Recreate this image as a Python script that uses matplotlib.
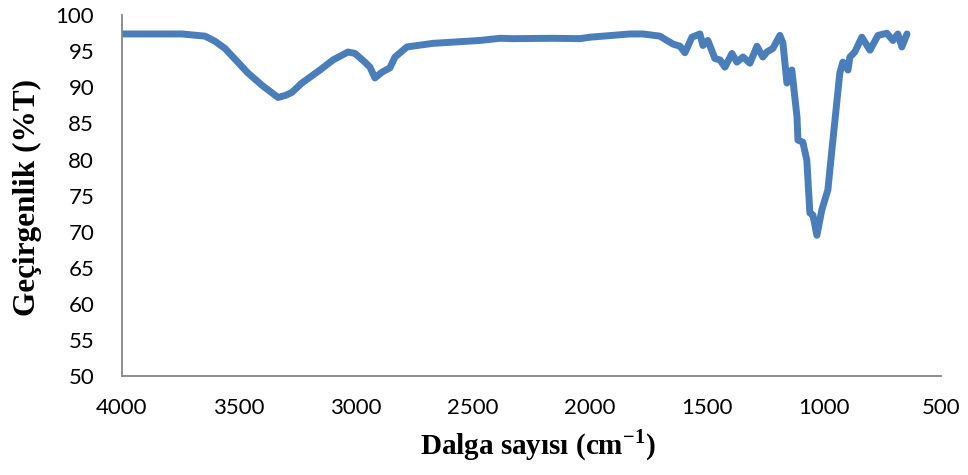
import matplotlib
matplotlib.use("Agg")
import matplotlib.pyplot as plt

plt.rcParams["mathtext.fontset"] = "custom"
plt.rcParams["mathtext.rm"] = "Liberation Serif"
plt.rcParams["mathtext.bf"] = "Liberation Serif:bold"

# FTIR spectrum: wavenumber (cm-1) and transmittance (%T)
wavenumber = [4000, 3744, 3645, 3603, 3560, 3462, 3402, 3333, 3300, 3274, 3231,
              3154, 3098, 3034, 3004, 2962, 2940, 2919, 2889, 2855, 2833, 2782,
              2671, 2470, 2385, 2329, 2158, 2043, 2000, 1829, 1774, 1701, 1671,
              1645, 1615, 1594, 1564, 1530, 1517, 1496, 1466, 1444, 1423, 1393,
              1372, 1346, 1316, 1286, 1261, 1244, 1218, 1188, 1175, 1158, 1137,
              1115, 1111, 1090, 1073, 1060, 1047, 1030, 1009, 983, 966, 944,
              932, 919, 897, 889, 868, 838, 803, 769, 731, 705, 684, 667, 645]
transmittance = [97.4, 97.4, 97.1, 96.4, 95.4, 92.0, 90.3, 88.6, 88.9, 89.3, 90.6,
                 92.4, 93.8, 94.9, 94.7, 93.5, 92.8, 91.3, 92.1, 92.7, 94.2, 95.6,
                 96.1, 96.5, 96.8, 96.75, 96.8, 96.75, 96.95, 97.4, 97.4, 97.1, 96.5,
                 96.0, 95.7, 94.8, 96.95, 97.4, 95.8, 96.5, 94.0, 93.8, 92.8, 94.7,
                 93.5, 94.2, 93.35, 95.7, 94.2, 94.9, 95.4, 97.2, 96.1, 90.6, 92.4,
                 85.9, 82.7, 82.4, 79.9, 72.6, 72.3, 69.5, 73.0, 75.8, 81.3, 88.2,
                 92.0, 93.5, 92.4, 94.2, 94.9, 96.95, 95.15, 97.2, 97.5, 96.5, 97.4, 95.6, 97.4]

x_ticks = [4000, 3500, 3000, 2500, 2000, 1500, 1000, 500]
y_ticks = [50, 55, 60, 65, 70, 75, 80, 85, 90, 95, 100]

x_label = r"Dalga sayısı (cm$^{\mathbf{-1}}$)"
y_label = "Geçirgenlik (%T)"

fig = plt.figure(figsize=(9.68, 4.75), dpi=100)
ax = fig.add_axes([0.126, 0.2084, 0.846, 0.7596])

ax.plot(wavenumber, transmittance, color="#4a7ebb", linewidth=5,
        solid_joinstyle="round", solid_capstyle="round")

ax.set_xlim(4000, 500)
ax.set_ylim(50, 100)
ax.set_xticks(x_ticks)
ax.set_yticks(y_ticks)

for side in ("top", "right"):
    ax.spines[side].set_visible(False)
for side in ("left", "bottom"):
    ax.spines[side].set_color("#868686")
    ax.spines[side].set_linewidth(1.3)

ax.tick_params(axis="both", length=0, labelsize=16, colors="black")
ax.tick_params(axis="y", pad=20)
ax.tick_params(axis="x", pad=16)
for lbl in ax.get_xticklabels() + ax.get_yticklabels():
    lbl.set_fontfamily("Lato")

fig.text(0.556, 0.063, x_label, fontfamily="Liberation Serif", fontweight="bold",
         fontsize=21, ha="center", va="center")
fig.text(0.028, 0.585, y_label, fontfamily="Liberation Serif", fontweight="bold",
         fontsize=22.5, ha="center", va="center", rotation=90)

fig.savefig("out.png", dpi=100)
